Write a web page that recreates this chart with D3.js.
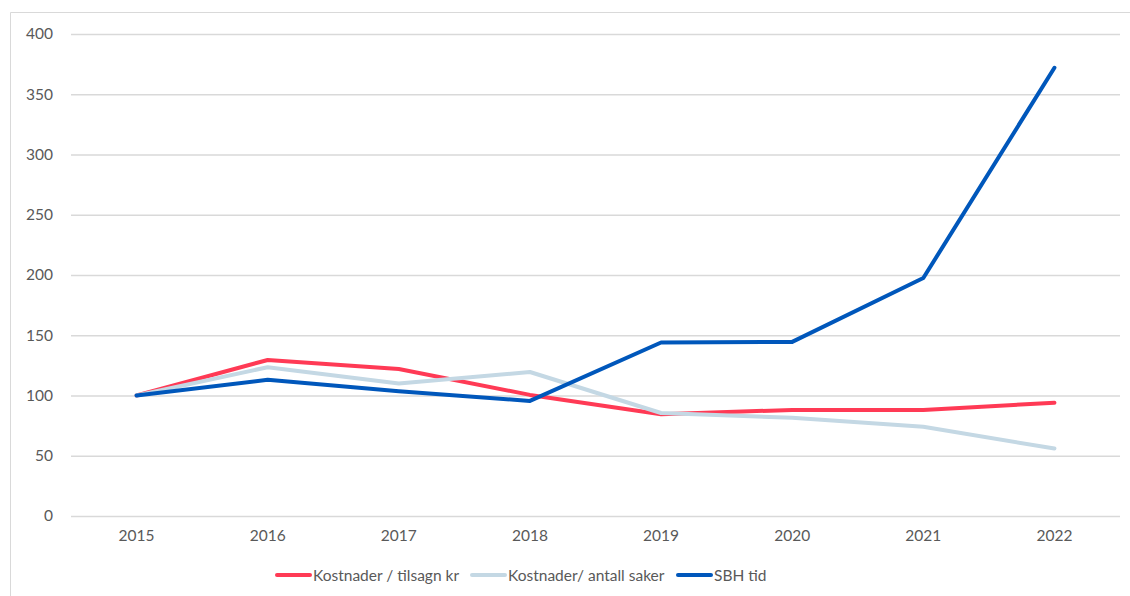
<!DOCTYPE html>
<html><head><meta charset="utf-8">
<script src="https://cdn.jsdelivr.net/npm/d3@7"></script>
<style>body{margin:0;background:#fff;} svg{display:block;}</style>
</head><body>
<svg id="c" width="1130" height="596"></svg>
<script>
const years = ["2015","2016","2017","2018","2019","2020","2021","2022"];
const kostTilsagn = [100,129.5,122,100.5,84.5,88,88,94];
const kostSaker = [100,123.5,110,119.5,85.5,81.5,74,56];
const sbhTid = [100,113,103.5,95.5,144,144.5,197.5,372];
const yTicks = [0,50,100,150,200,250,300,350,400];
const seriesNames = ["Kostnader / tilsagn kr","Kostnader/ antall saker","SBH tid"];
const colors = ["#FF3A55","#C4D8E4","#0057BB"];

const svg = d3.select("#c");
const font = "Lato, 'Open Sans', 'Liberation Sans', sans-serif";
const fs = "15.5px";
// frame
svg.append("path").attr("d","M10.5,596 V12.5 H1130").attr("fill","none").attr("stroke","#d9d9d9").attr("stroke-width",1);

const x = d3.scaleBand().domain(years).range([71,1120]);
const y = d3.scaleLinear().domain([0,400]).range([516,34]);

const yAxis = svg.append("g").attr("transform","translate(71,0)")
  .call(d3.axisLeft(y).tickValues(yTicks).tickSize(-1049).tickPadding(18));
yAxis.select(".domain").remove();
yAxis.selectAll(".tick line").attr("stroke","#d9d9d9").attr("stroke-width",1.3);
yAxis.selectAll("text").attr("fill","#595959").style("font-family",font).style("font-size",fs);

const xAxis = svg.append("g").attr("transform","translate(0,516)")
  .call(d3.axisBottom(x).tickSize(0).tickPadding(14));
xAxis.select(".domain").remove();
xAxis.selectAll("text").attr("fill","#595959").style("font-family",font).style("font-size",fs);

const data = [kostTilsagn,kostSaker,sbhTid];
const line = d3.line().x((d,i)=>x(years[i])+x.bandwidth()/2).y(d=>y(d));
data.forEach((s,k)=>{
  svg.append("path").datum(s).attr("d",line).attr("fill","none")
    .attr("stroke",colors[k]).attr("stroke-width",4).attr("stroke-linejoin","round").attr("stroke-linecap","round");
});

// legend
const legX = [277,472,678];
seriesNames.forEach((n,k)=>{
  const g = svg.append("g").attr("transform",`translate(${legX[k]},575)`);
  g.append("line").attr("x1",0).attr("x2",33).attr("y1",0).attr("y2",0)
    .attr("stroke",colors[k]).attr("stroke-width",4).attr("stroke-linecap","round");
  g.append("text").attr("x",36).attr("y",5.5).text(n).attr("fill","#595959")
    .style("font-family",font).style("font-size",fs);
});
</script>
</body></html>
